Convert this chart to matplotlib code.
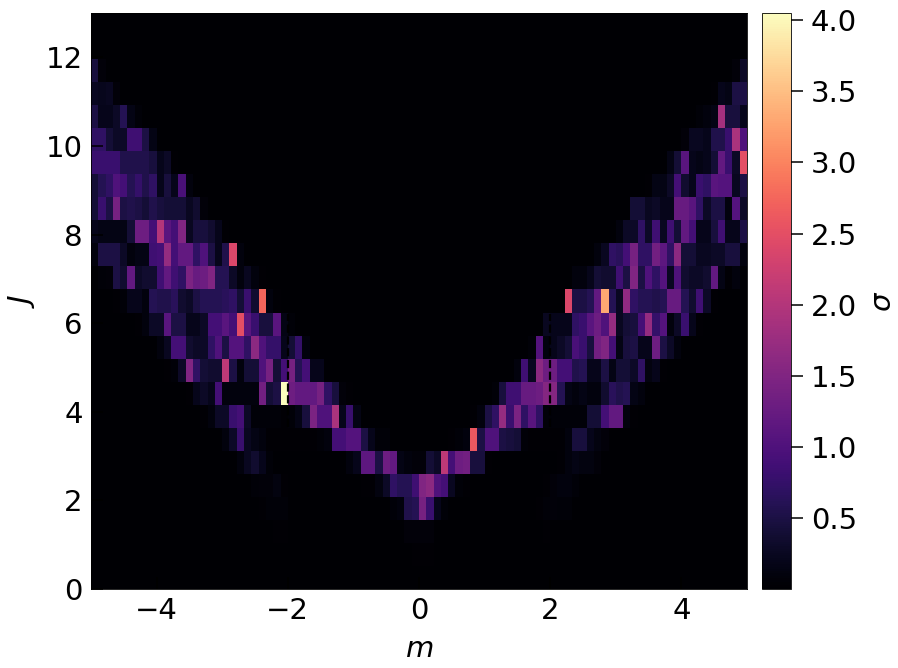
import numpy as np
import matplotlib
matplotlib.use("Agg")
import matplotlib.pyplot as plt

n_m = 90
n_J = 25

# sigma per J row, {first m bin: values}
row_01 = {44: [.02, .02, .02]}
row_02 = {24: [.015, .02, .02, .015], 42: [.01, .07, .07, .07, .07], 61: [.01, .02]}
row_03 = {23: [.02, .05, .05, .05], 41: [.05, .1, .55, .6, 1.4, .8, .2, .05], 61: [.03, .06, .08, .05, .05]}
row_04 = {22: [.05, .07, .07, .12, .02], 37: [.03, .03, .12, .3, .7, .6, .6, .85, 1.5, 1.6, 1.0, .9, .25, .05, .03],
          62: [.02, .08, .1, .1, .06]}
row_05 = {20: [.1, .25, .35, .2, .05], 35: [.1, .2, 1.15, 1.15, .5, 1.3, 1.2, .15, .1, .07, .07, .4, .3, 2.1, .9, 1.3, 1.35, .45, .45, .02],
          64: [.03, .1, .15, .12, .12, .08]}
row_06 = {18: [.1, .3, .8, .25, .15, .1, .03, .03, .02, .02, .02, .03, .03, .05, .1, .9, .9, 1.05, 1.05, .5, .2, .05, .05],
          49: [.02, .06, .1, 2.6, .5, 1.0, 1.0, .5, .45, .4, .05, .03, .02, .02, .02, .02, .1, .45, .45, .2, .12, .08]}
row_07 = {15: [.03, .1, .3, .3, .8, .9, .3, .05, .05, .05, .05, .03, .05, .15, .45, 1.45, 1.0, 1.0, 1.9, .2, .8, .15],
          52: [.03, .1, .5, .7, 1.7, .8, 1.45, .7, 1.1, .7, .08, .05, .05, .05, .05, .05, .4, .4, .9, 1.2, 1.2, .1, .03]}
row_08 = {13: [.02, .2, .3, .2, .9, .1, .1, .1, .1, .1, 1.35, .4, .5, 4.05, 1.3, 1.2, 1.2, 1.2, 1.4, .7, .45, .07, .03],
          55: [.05, .45, .85, .85, 1.25, 1.25, 1.3, 1.55, 1.55, .6, .15, .1, .15, .1, .1, .35, .65, .55, .6, .15, .1]}
row_09 = {10: [.02, .05, .3, 1.5, .7, .4, .35, .35, 2.1, .5, .1, .4, .4, 1.0, 1.4, .4, .9, 1.4, .6, .9, .2, .2],
          58: [.1, .85, .25, 1.6, 1.3, 1.3, .9, .9, .55, .6, .2, .2, .5, .15, .4, .4, .3, .7, .12, .2, .03]}
row_10 = {9: [.1, .25, .9, .9, .35, .3, .3, .7, 1.0, .5, 1.05, 1.05, .7, 1.6, 1.0, .75, .75, .2, .4, .75, .1],
          60: [.05, 1.05, .1, .2, .3, .4, .95, .8, .45, 1.35, 1.5, .9, .15, .45, .5, .2, .2, 1.3, .5, .3, .1]}
row_11 = {6: [.03, .1, .3, .3, 1.1, .5, .5, .2, .2, .3, .9, .9, 1.1, .9, 2.5, 1.1, .8, .45, .45, 1.1, .15, .05],
          62: [.25, .2, .2, .2, .7, .8, 1.1, 1.3, 1.0, 1.7, .25, .4, .45, .9, 1.7, .75, 1.05, .1, .3, .8, .2, .02]}
row_12 = {3: [.03, .05, .2, .2, .1, .6, .55, .55, .65, .35, .3, .5, .6, .6, .6, .65, .7, .4, .8, .35, 2.75, .1, .02],
          65: [2.4, .5, .5, .6, 1.2, 3.3, .6, .25, 1.65, .7, .6, .6, .55, .6, 1.25, 1.25, .6, .35, .85, .3, .02]}
row_13 = {0: [0, .05, .08, .5, .35, 1.2, .3, .35, .35, .85, 1.2, .85, .7, 1.45, 1.25, 1.3, 1.5, .6, .6, .3, .1, .25, .1, .02],
          66: [.1, .1, .2, .4, .35, .35, .85, .5, 1.5, .5, 1.0, .7, 1.05, .25, 1.0, .35, .3, .3, .35, 1.2, .15, .03, .1]}
row_14 = {0: [.1, .5, .5, .5, .3, .1, .15, .15, .85, .9, 1.7, .9, 1.2, 1.2, .7, 1.0, .5, .2, .55, 2.4, .1, .01],
          69: [.1, .25, .7, .65, .9, 1.4, .7, .7, 1.35, 1.15, .7, 1.6, .4, .4, .25, .25, .3, .3, .45, .45, .1]}
row_15 = {0: [.2, .15, .15, .15, .15, .4, 1.3, 1.3, .9, 2.0, 1.1, .9, 1.5, .25, .45, .45, .35, .2, .02],
          72: [.1, .3, .3, .7, .3, .85, .25, .85, .4, 1.2, .9, .2, .2, .45, .85, .2, .2, .5]}
row_16 = {0: [.4, .8, .5, 1.4, .5, .55, .5, .4, .55, .45, .4, .4, .4, .25, .35, .08],
          74: [.4, .4, .25, .3, .2, .2, 1.25, 1.25, 1.1, .7, .3, .5, .5, .1, 1.05, .3]}
row_17 = {0: [.4, .6, .7, 1.0, .9, .6, .75, .55, .7, .2, .45, .2, .95, .1],
          76: [.02, .15, .15, .3, .9, .35, .2, .8, .7, 1.1, 1.05, 1.05, .25, .5]}
row_18 = {0: [.8, .8, .8, .8, .55, .55, .55, .55, .45, .2, .3, .03],
          79: [.15, .4, 1.1, .2, .15, .2, .4, 1.2, .8, .3, 2.5]}
row_19 = {0: [.7, .7, .4, .3, .3, .85, .85, .5, .15], 81: [.08, .25, .25, .2, .55, .55, .8, 1.9, 1.0]}
row_20 = {0: [.5, .2, .2, .3, .6, .15, .06], 83: [.05, .1, .15, 1.85, .45, .45, .2]}
row_21 = {0: [.25, .22, .25, .08], 85: [.02, .2, .15, .5, .5]}
row_22 = {0: [.45, .08], 88: [.08, .3]}

rows = [row_01, row_02, row_03, row_04, row_05, row_06, row_07, row_08, row_09, row_10, row_11,
        row_12, row_13, row_14, row_15, row_16, row_17, row_18, row_19, row_20, row_21, row_22]

sigma = np.full((n_J, n_m), 0.002)
for i, row in enumerate(rows):
    for start, vals in row.items():
        sigma[i + 1, start:start + len(vals)] = np.maximum(vals, 0.002)

m_edges = np.linspace(-5, 5, n_m + 1)
J_edges = np.linspace(0, 13, n_J + 1)

W, H = 898, 668
fig = plt.figure(figsize=(W / 100, H / 100), dpi=100)
ax = fig.add_axes([91 / W, 1 - 589 / H, 656 / W, 576 / H])
cax = fig.add_axes([762 / W, 1 - 589 / H, 28.5 / W, 576 / H])

mesh = ax.pcolormesh(m_edges, J_edges, sigma, cmap="magma", vmin=0.002, vmax=4.05, rasterized=True)
ax.vlines([-2, 2], 3.65, 6.2, color="k", lw=1.6, ls="--")
ax.set_xlim(-5, 5)
ax.set_ylim(0, 13)
ax.set_xticks([-4, -2, 0, 2, 4])
ax.set_yticks([0, 2, 4, 6, 8, 10, 12])
ax.tick_params(direction="in", length=8.5, width=1.1, labelsize=21, pad=6)
ax.set_xlabel("$m$", fontsize=21, labelpad=7)
ax.set_ylabel("$J$", fontsize=21, labelpad=6.5)
for s in ax.spines.values():
    s.set_linewidth(0.6)

cb = fig.colorbar(mesh, cax=cax)
cb.set_ticks([0.5, 1.0, 1.5, 2.0, 2.5, 3.0, 3.5, 4.0])
cb.ax.tick_params(length=8.5, width=1.1, labelsize=21, pad=6)
cb.set_label(r"$\sigma$", fontsize=21, labelpad=8.5)
cb.outline.set_linewidth(0.6)

fig.savefig("out.png", dpi=100)
